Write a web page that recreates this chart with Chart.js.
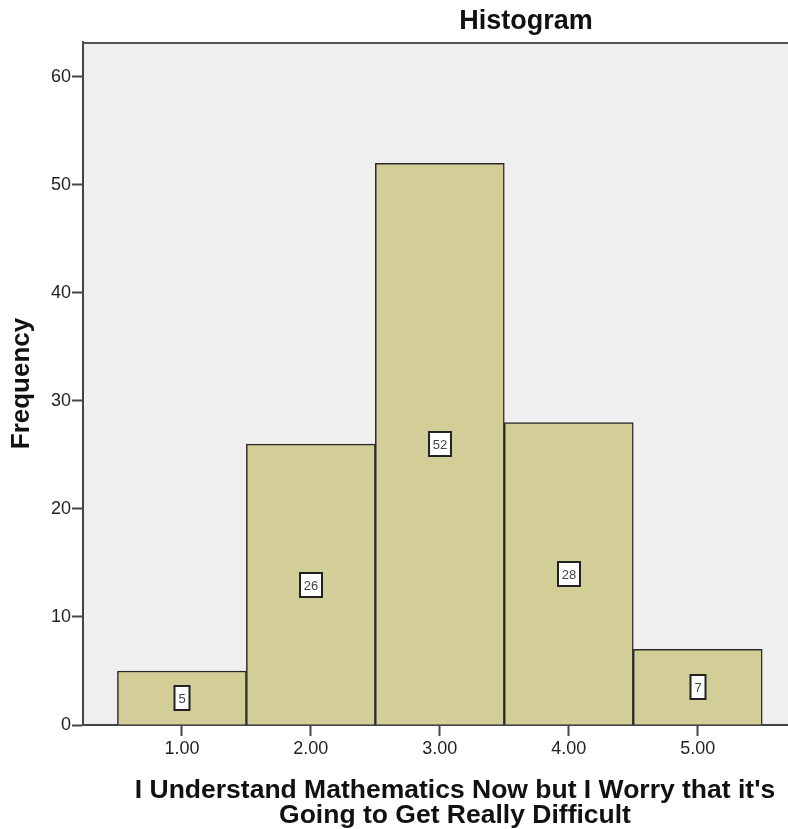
<!DOCTYPE html>
<html>
<head>
<meta charset="utf-8">
<title>Histogram</title>
<script src="https://cdn.jsdelivr.net/npm/chart.js@4.4.1/dist/chart.umd.min.js"></script>
<style>
    html, body { margin: 0; padding: 0; background: #ffffff; }
    canvas { display: block; }
</style>
</head>
<body>
<canvas id="chart-histogram" width="788" height="829"></canvas>
<script>
// Datos del histograma
const binCenters = [1, 2, 3, 4, 5];
const frequencies = [5, 26, 52, 28, 7];
const yTicks = [0, 10, 20, 30, 40, 50, 60];
const xTitleLines = ["I Understand Mathematics Now but I Worry that it's", 'Going to Get Really Difficult'];
const chartTitle = 'Histogram';

const fontFamily = '"Liberation Sans", Arial, Helvetica, sans-serif';

// Fondo gris del area, linea superior, titulos y cajas con los valores
const spssPlugin = {
    id: 'spss',
    beforeDraw(chart) {
        const { ctx, chartArea } = chart;
        ctx.save();
        ctx.fillStyle = '#ffffff';
        ctx.fillRect(0, 0, chart.width, chart.height);
        ctx.fillStyle = '#efefef';
        ctx.fillRect(chartArea.left, chartArea.top, chartArea.right - chartArea.left, chartArea.bottom - chartArea.top);
        ctx.restore();
    },
    afterDatasetsDraw(chart) {
        const { ctx, chartArea } = chart;
        const yScale = chart.scales.y;
        const meta = chart.getDatasetMeta(0);
        ctx.save();
        // linea superior del marco
        ctx.strokeStyle = '#555555';
        ctx.lineWidth = 2;
        ctx.beginPath();
        ctx.moveTo(chartArea.left, chartArea.top + 1);
        ctx.lineTo(chartArea.right, chartArea.top + 1);
        ctx.stroke();

        // etiquetas de valor en cajas blancas
        ctx.font = '13px ' + fontFamily;
        ctx.textAlign = 'center';
        ctx.textBaseline = 'middle';
        meta.data.forEach((bar, i) => {
            const value = frequencies[i];
            const text = String(value);
            const cx = Math.round(bar.x);
            const cy = Math.round(yScale.getPixelForValue(value / 2));
            const w = Math.round(ctx.measureText(text).width) + 8;
            const h = 24;
            ctx.fillStyle = '#ffffff';
            ctx.fillRect(cx - w / 2, cy - h / 2, w, h);
            ctx.strokeStyle = '#222222';
            ctx.lineWidth = 2;
            ctx.strokeRect(cx - w / 2, cy - h / 2, w, h);
            ctx.fillStyle = '#444444';
            ctx.fillText(text, cx, cy + 1);
        });

        // titulo del grafico
        ctx.fillStyle = '#111111';
        ctx.textAlign = 'center';
        ctx.textBaseline = 'alphabetic';
        ctx.font = 'bold 27px ' + fontFamily;
        ctx.fillText(chartTitle, 526, 29);

        // titulo del eje X (dos lineas)
        ctx.font = 'bold 26.5px ' + fontFamily;
        ctx.fillText(xTitleLines[0], 455, 798);
        ctx.fillText(xTitleLines[1], 455, 823);
        ctx.restore();
    }
};

const ctx = document.getElementById('chart-histogram').getContext('2d');
const chart = new Chart(ctx, {
    type: 'bar',
    data: {
        datasets: [{
            label: 'Frequency',
            data: binCenters.map((x, i) => ({ x: x, y: frequencies[i] })),
            backgroundColor: '#d3ce97',
            borderColor: '#2a2a2a',
            borderWidth: 1.5,
            barPercentage: 1,
            categoryPercentage: 1,
        }]
    },
    options: {
        responsive: false,
        animation: false,
        layout: {
            padding: { top: 42, left: 0, right: 0, bottom: 0 }
        },
        plugins: {
            legend: { display: false },
            title: { display: false },
            tooltip: { enabled: false }
        },
        scales: {
            x: {
                type: 'linear',
                min: 0.233,
                max: 5.70,
                offset: false,
                afterFit: (scale) => { scale.height = 104; },
                afterBuildTicks: (scale) => {
                    scale.ticks = binCenters.map((v) => ({ value: v }));
                },
                ticks: {
                    callback: (v) => Number(v).toFixed(2),
                    font: { family: fontFamily, size: 18 },
                    color: '#222222',
                    padding: 2,
                    maxRotation: 0,
                    autoSkip: false
                },
                grid: {
                    display: true,
                    offset: false,
                    drawOnChartArea: false,
                    drawTicks: true,
                    tickLength: 11,
                    tickWidth: 2,
                    tickColor: '#444444'
                },
                border: { display: true, color: '#444444', width: 2 }
            },
            y: {
                min: 0,
                max: 63.24,
                afterFit: (scale) => { scale.width = 83; },
                afterBuildTicks: (scale) => {
                    scale.ticks = yTicks.map((v) => ({ value: v }));
                },
                ticks: {
                    font: { family: fontFamily, size: 18 },
                    color: '#222222',
                    padding: 1
                },
                grid: {
                    display: true,
                    drawOnChartArea: false,
                    drawTicks: true,
                    tickLength: 11,
                    tickWidth: 2,
                    tickColor: '#444444'
                },
                border: { display: true, color: '#444444', width: 2 },
                title: {
                    display: true,
                    text: 'Frequency',
                    color: '#111111',
                    font: { family: fontFamily, size: 26, weight: 'bold' },
                    padding: { top: 6, bottom: 0 }
                }
            }
        }
    },
    plugins: [spssPlugin]
});
</script>
</body>
</html>
